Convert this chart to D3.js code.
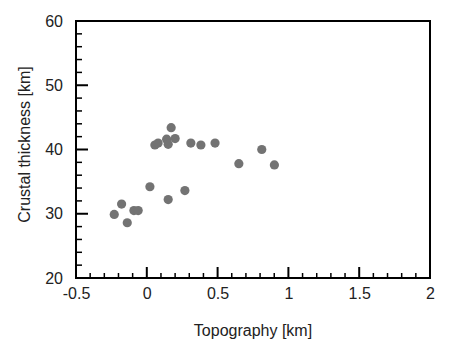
<!DOCTYPE html>
<html>
<head>
<meta charset="utf-8">
<script src="https://d3js.org/d3.v7.min.js"></script>
<style>
  body { margin: 0; background: #fff; }
  text { font-family: "Liberation Sans", Arial, sans-serif; fill: #222; }
</style>
</head>
<body>
<svg width="450" height="356"></svg>
<script>
// topography [km] vs crustal thickness [km]
var topo =  [0.172, 0.057, 0.080, 0.140, 0.151, 0.200, 0.311, 0.382, 0.482, 0.650,
             0.812, 0.901, 0.022, 0.151, 0.269, -0.178, -0.230, -0.091, -0.061, -0.138];
var thick = [43.4, 40.7, 41.0, 41.6, 40.8, 41.7, 41.0, 40.7, 41.0, 37.8,
             40.0, 37.6, 34.2, 32.2, 33.6, 31.5, 29.9, 30.5, 30.5, 28.6];
var xTicks = [-0.5, 0, 0.5, 1, 1.5, 2];
var yTicks = [20, 30, 40, 50, 60];

var svg = d3.select("svg");
var pLeft = 76, pRight = 430, pTop = 21, pBottom = 278;

var x = d3.scaleLinear().domain([-0.5, 2]).range([pLeft, pRight]);
var y = d3.scaleLinear().domain([20, 60]).range([pBottom, pTop]);

var xMinor = d3.range(-5, 21).map(function (i) { return i / 10; });
var yMinor = d3.range(10, 31).map(function (i) { return i * 2; });

// axes: labels through d3.axis, inward ticks drawn from the same scales
var xa = svg.append("g").attr("transform", "translate(0," + pBottom + ")")
  .call(d3.axisBottom(x).tickValues(xTicks).tickSize(0).tickPadding(10).tickFormat(function (d) { return String(d); }));
xa.select(".domain").remove();
xa.selectAll("text").attr("font-size", 16);

var ya = svg.append("g").attr("transform", "translate(" + pLeft + ",0)")
  .call(d3.axisLeft(y).tickValues(yTicks).tickSize(0).tickPadding(13).tickFormat(function (d) { return String(d); }));
ya.select(".domain").remove();
ya.selectAll("text").attr("font-size", 16);

var ticks = svg.append("g").attr("stroke", "#000");
ticks.selectAll(".xt").data(xMinor).enter().append("line")
  .attr("x1", function (d) { return x(d); }).attr("x2", function (d) { return x(d); })
  .attr("y1", pBottom)
  .attr("y2", function (d, i) { return pBottom - (i % 5 === 0 ? 11 : 5); })
  .attr("stroke-width", function (d, i) { return i % 5 === 0 ? 2 : 1.5; });
ticks.selectAll(".yt").data(yMinor).enter().append("line")
  .attr("y1", function (d) { return y(d); }).attr("y2", function (d) { return y(d); })
  .attr("x1", pLeft)
  .attr("x2", function (d, i) { return pLeft + (i % 5 === 0 ? 12 : 6); })
  .attr("stroke-width", function (d, i) { return i % 5 === 0 ? 2 : 1.5; });

// frame
svg.append("rect")
  .attr("x", pLeft).attr("y", pTop)
  .attr("width", pRight - pLeft).attr("height", pBottom - pTop)
  .attr("fill", "none").attr("stroke", "#000").attr("stroke-width", 2);

svg.append("g").selectAll("circle")
  .data(topo)
  .enter().append("circle")
  .attr("cx", function (d) { return x(d); })
  .attr("cy", function (d, i) { return y(thick[i]); })
  .attr("r", 4.6)
  .attr("fill", "#737373");

svg.append("text")
  .attr("x", (pLeft + pRight) / 2).attr("y", 336)
  .attr("text-anchor", "middle").attr("font-size", 16)
  .text("Topography [km]");

svg.append("text")
  .attr("transform", "translate(30," + ((pTop + pBottom) / 2 - 5) + ") rotate(-90)")
  .attr("text-anchor", "middle").attr("font-size", 16)
  .text("Crustal thickness [km]");
</script>
</body>
</html>
